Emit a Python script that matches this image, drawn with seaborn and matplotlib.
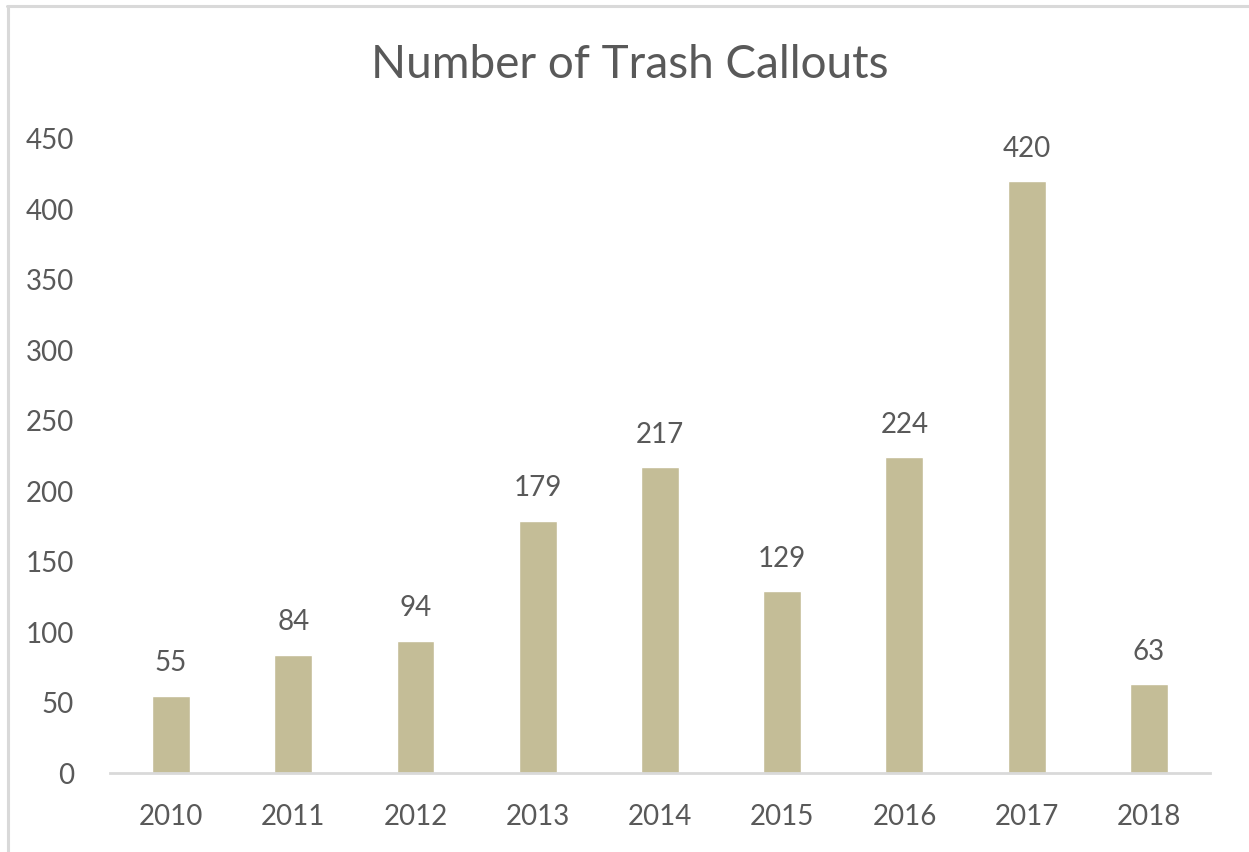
import pandas as pd
import matplotlib
matplotlib.use("Agg")
import matplotlib.pyplot as plt
import seaborn as sns
from matplotlib.lines import Line2D

# Data
years = ["2010", "2011", "2012", "2013", "2014", "2015", "2016", "2017", "2018"]
callouts = [55, 84, 94, 179, 217, 129, 224, 420, 63]

df = pd.DataFrame({"Year": years, "Callouts": callouts})

sns.set_style("white")
plt.rcParams["font.family"] = ["Lato", "DejaVu Sans"]

text_color = "#595959"
bar_color = "#C4BD97"

fig = plt.figure(figsize=(12.49, 8.52), dpi=100)
ax = fig.add_axes([0.088, 0.0927, 0.8808, 0.7442])

sns.barplot(data=df, x="Year", y="Callouts", color=bar_color, width=0.31,
            saturation=1, ax=ax)

# value labels
for container in ax.containers:
    ax.bar_label(container, padding=14, fontsize=20, color=text_color)

ax.set_ylim(0, 450)
ax.set_xlim(-0.5, 8.5)
ax.set_yticks(range(0, 451, 50))
ax.set_xlabel("")
ax.set_ylabel("")

# chart title, centred on the whole chart area
fig.text(0.504, 1 - 65 / 852, "Number of Trash Callouts", fontsize=33,
         color=text_color, ha="center", va="center")

for side in ["top", "right", "left"]:
    ax.spines[side].set_visible(False)
ax.spines["bottom"].set_color("#D9D9D9")
ax.spines["bottom"].set_linewidth(2)

ax.tick_params(axis="both", length=0, labelsize=20, labelcolor=text_color)
ax.tick_params(axis="y", pad=26)
ax.tick_params(axis="x", pad=22)

# outer chart border (top and left visible)
W, H = 1249, 852
fig.add_artist(Line2D([7 / W, 1], [1 - 5.5 / H, 1 - 5.5 / H], color="#D9D9D9",
                      linewidth=2.2, transform=fig.transFigure))
fig.add_artist(Line2D([7.5 / W, 7.5 / W], [0, 1 - 5.5 / H], color="#D9D9D9",
                      linewidth=2.2, transform=fig.transFigure))

fig.savefig("out.png", dpi=100, facecolor="white")
